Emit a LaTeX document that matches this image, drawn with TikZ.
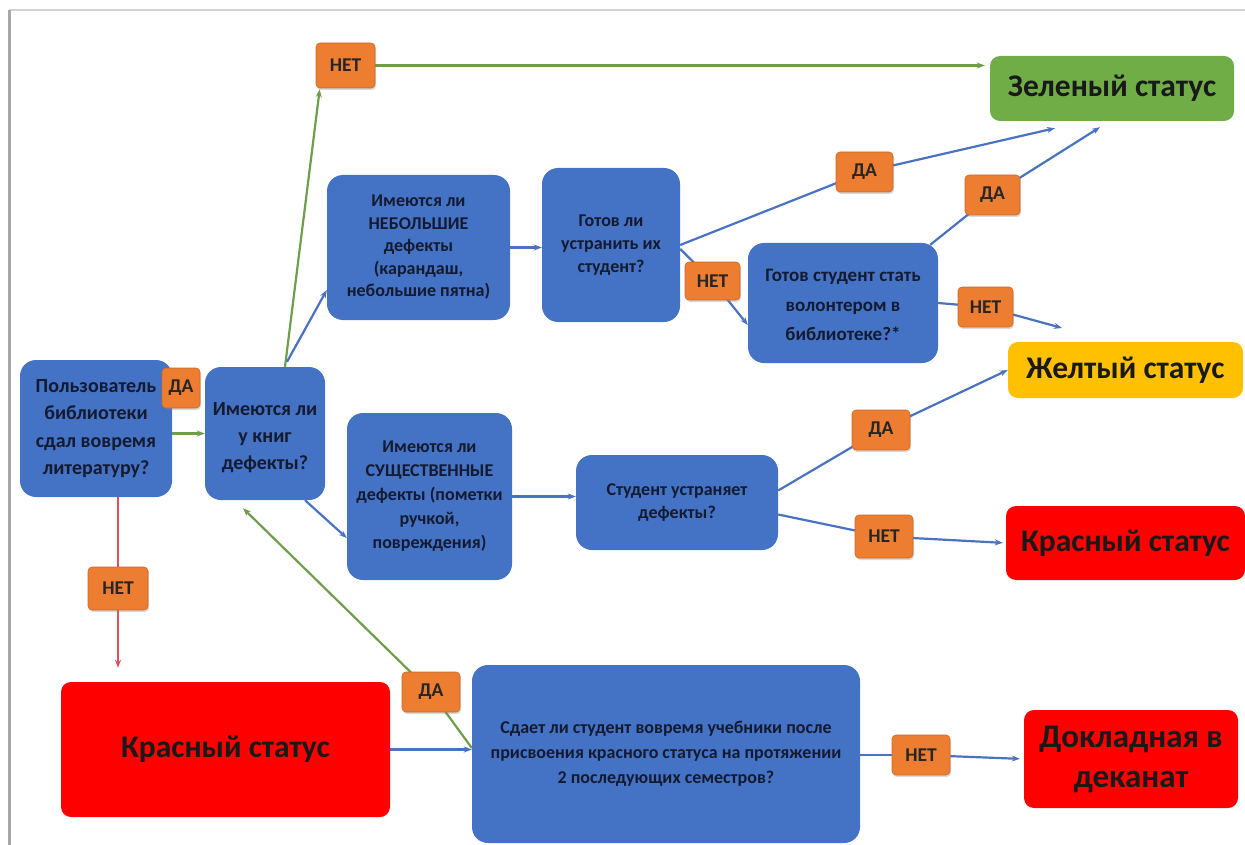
\documentclass[tikz,border=0pt]{standalone}
\usepackage{fontspec}
\setmainfont{Carlito}
\usetikzlibrary{arrows.meta,shadows,backgrounds}
\definecolor{qblue}{HTML}{4472C4}
\definecolor{qtext}{HTML}{141A30}
\definecolor{lorange}{HTML}{ED7D31}
\definecolor{sgreen}{HTML}{70AD47}
\definecolor{syellow}{HTML}{FFC000}
\definecolor{sred}{HTML}{FF0000}
\definecolor{lgreen}{HTML}{6E9E4B}
\definecolor{lred}{HTML}{E84D5B}
\definecolor{lblue}{HTML}{4A72C2}
\begin{document}
\begin{tikzpicture}[x=1pt,y=-1pt,
  qbox/.style={fill=qblue, rounded corners=16pt, align=center, text=qtext, inner sep=2pt,
    font=\bfseries\fontsize{18}{23}\selectfont},
  lab/.style={fill=lorange, draw=lorange!85!black, line width=0.6pt, rounded corners=4pt,
    font=\bfseries\fontsize{19.5}{21}\selectfont, text=black!85, inner sep=0pt,
    drop shadow={opacity=0.3, shadow xshift=1pt, shadow yshift=-2pt}},
  stat/.style={rounded corners=10pt, align=center, text=black!90, inner sep=0pt,
    font=\bfseries\fontsize{31.5}{40}\selectfont},
  bline/.style={draw=lblue, line width=2.2pt},
  barrow/.style={bline, -{Stealth[length=8pt,width=6pt]}},
  gline/.style={draw=lgreen, line width=2.2pt},
  garrow/.style={gline, -{Stealth[length=8pt,width=6pt]}},
  rline/.style={draw=lred, line width=2.2pt},
  rarrow/.style={rline, -{Stealth[length=8pt,width=6pt]}},
]
\useasboundingbox (0,0) rectangle (1245,845);
% frame
\draw[gray!35, line width=1.5pt] (9,10) -- (1245,10);
\draw[gray!70, line width=3pt] (9,10) -- (9,845);

% question boxes
\node[qbox, minimum width=152pt, minimum height=137pt, font=\bfseries\fontsize{20}{27.5}\selectfont] (Q1) at (96,428.5)
  {Пользователь\\библиотеки\\сдал вовремя\\литературу?};
\node[qbox, minimum width=120pt, minimum height=133pt, font=\bfseries\fontsize{20}{27}\selectfont] (Q2) at (265,433.5)
  {\mbox{}\\[-5pt]Имеются ли\\у книг\\дефекты?};
\node[qbox, minimum width=183pt, minimum height=145pt, font=\bfseries\fontsize{18}{22.5}\selectfont] (A) at (418.5,247.5)
  {Имеются ли\\НЕБОЛЬШИЕ\\дефекты\\(карандаш,\\небольшие пятна)};
\node[qbox, minimum width=138pt, minimum height=154pt] (B) at (611,245)
  {Готов ли\\устранить их\\студент?};
\node[qbox, minimum width=190pt, minimum height=120pt, font=\bfseries\fontsize{19}{29.5}\selectfont] (C) at (843,303)
  {\mbox{}\\[-13pt]Готов студент стать\\волонтером в\\библиотеке?*};
\node[qbox, minimum width=165pt, minimum height=167pt, font=\bfseries\fontsize{18}{24}\selectfont] (D) at (429.5,496.5)
  {Имеются ли\\СУЩЕСТВЕННЫЕ\\дефекты (пометки\\ручкой,\\повреждения)};
\node[qbox, minimum width=202pt, minimum height=95pt] (E) at (677,502.5)
  {Студент устраняет\\дефекты?};
\node[qbox, minimum width=388pt, minimum height=178pt, font=\bfseries\fontsize{18}{25}\selectfont] (F) at (666,754)
  {Сдает ли студент вовремя учебники после\\присвоения красного статуса на протяжении\\2 последующих семестров?};

% status boxes
\node[stat, fill=sgreen, minimum width=244pt, minimum height=65pt] (G) at (1112,88.5) {Зеленый статус};
\node[stat, fill=syellow, minimum width=235pt, minimum height=56pt] (Y) at (1125.5,370) {Желтый статус};
\node[stat, fill=sred, minimum width=239pt, minimum height=74pt] (RR) at (1125.5,543) {Красный статус};
\node[stat, fill=sred, minimum width=329pt, minimum height=135pt] (RB) at (225.5,749.5) {Красный статус};
\node[stat, fill=sred, minimum width=214pt, minimum height=98pt, font=\bfseries\fontsize{33}{40}\selectfont] (DK) at (1131,759) {Докладная в\\деканат};

% yes/no labels
\node[lab, minimum width=38pt, minimum height=40pt] (L0) at (181,388) {ДА};
\node[lab, minimum width=59pt, minimum height=45pt] (L1) at (345.5,65.5) {НЕТ};
\node[lab, minimum width=57pt, minimum height=40pt] (L2) at (864.5,172) {ДА};
\node[lab, minimum width=55pt, minimum height=38pt] (L3) at (712.5,281) {НЕТ};
\node[lab, minimum width=55pt, minimum height=40pt] (L4) at (992.5,195) {ДА};
\node[lab, minimum width=55pt, minimum height=40pt] (L5) at (985.5,307) {НЕТ};
\node[lab, minimum width=58pt, minimum height=40pt] (L6) at (881,430) {ДА};
\node[lab, minimum width=58pt, minimum height=43pt] (L7) at (884,536.5) {НЕТ};
\node[lab, minimum width=60pt, minimum height=43pt] (L8) at (118,588.5) {НЕТ};
\node[lab, minimum width=58pt, minimum height=40pt] (L9) at (431,692) {ДА};
\node[lab, minimum width=58pt, minimum height=40pt] (L10) at (921,755) {НЕТ};

\coordinate (V) at (1062,328);

\begin{scope}[on background layer]
% Q1 -> Q2
\draw[garrow] ([xshift=-15pt,yshift=-5pt]Q1.east) -- (Q2.west);
% Q1 -> NET -> red
\draw[rline] (L8 |- Q1.south) -- (L8.center);
\draw[rarrow, shorten >=14pt] (L8.center) -- (L8 |- RB.north);
% Q2 -> NET -> green
\draw[garrow] ([xshift=20pt]Q2.north) -- ([xshift=4pt,yshift=-1pt]L1.south west);
\draw[garrow, shorten >=5pt] (L1.center) -- (G.west |- L1.center);
% Q2 -> A, Q2 -> D
\draw[barrow] ([xshift=22pt,yshift=5pt]Q2.north) -- ([yshift=-42.5pt]A.west);
\draw[barrow] ([xshift=40pt]Q2.south) -- ([yshift=-41.5pt]D.west);
% A -> B
\draw[barrow] (A.east) -- (A.east -| B.west);
% B -> DA -> G
\draw[bline] (B.east) -- (L2.center);
\draw[barrow] (L2.center) -- ([xshift=-57pt,yshift=-7pt]G.south);
% B -> NET -> C
\draw[bline] ([yshift=-4pt]B.east) -- (L3.center);
\draw[barrow] (L3.center) -- ([yshift=-22pt]C.west);
% C -> DA -> G
\draw[bline] ([xshift=-8pt,yshift=-2pt]C.north east) -- (L4.center);
\draw[barrow] (L4.center) -- ([xshift=-12pt,yshift=-6pt]G.south);
% C -> NET -> free end
\draw[bline] (C.east) -- (L5.center);
\draw[barrow] (L5.center) -- (V);
% D -> E
\draw[barrow] (D.east) -- (D.east -| E.west);
% E -> DA -> Y
\draw[bline] ([yshift=12pt]E.east) -- (L6.center);
\draw[barrow] (L6.center) -- (Y.west);
% E -> NET -> RR
\draw[bline] ([yshift=-12pt]E.east) -- (L7.center);
\draw[barrow, shorten >=3pt] (L7.center) -- (RR.west);
% RB -> F
\draw[barrow] (RB.east) -- (RB.east -| F.west);
% F -> DA -> Q2
\draw[gline] ([yshift=6pt]F.west) -- (L9.center);
\draw[garrow] (L9.center) -- ([xshift=-22pt,yshift=-8pt]Q2.south);
% F -> NET -> DK
\draw[bline] ([yshift=-1pt]F.east) -- (L10.center);
\draw[barrow, shorten >=4pt] (L10.center) -- (DK.west);
\end{scope}
\end{tikzpicture}
\end{document}
